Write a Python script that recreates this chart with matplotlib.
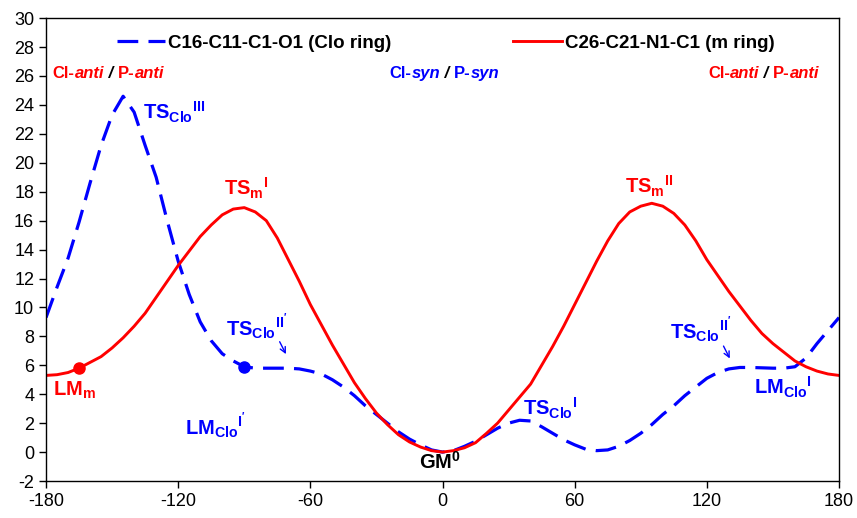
import matplotlib
matplotlib.use("Agg")
from matplotlib import pyplot as plt

plt.rcParams['font.family'] = ['Liberation Sans', 'DejaVu Sans']
plt.rcParams['mathtext.fontset'] = 'custom'
plt.rcParams['mathtext.rm'] = 'Liberation Sans'
plt.rcParams['mathtext.bf'] = 'Liberation Sans:bold'
plt.rcParams['mathtext.it'] = 'Liberation Sans:italic'
plt.rcParams['axes.unicode_minus'] = False

# dihedral scan, energies in kcal/mol
clo_angle = [-180, -175, -170, -165, -160, -155, -150, -145, -140, -135, -130,
             -125, -120, -115, -110, -105, -100, -95, -90, -85, -80, -70, -65,
             -60, -55, -50, -45, -40, -35, -30, -25, -20, -15, -10, -5, 0, 5,
             10, 15, 20, 25, 30, 35, 40, 45, 50, 55, 60, 65, 70, 75, 80, 85,
             90, 95, 100, 105, 110, 115, 120, 125, 130, 135, 140, 150, 155,
             160, 165, 170, 175, 180]
clo_energy = [9.3, 11.4, 13.4, 15.9, 18.6, 21.2, 23.3, 24.6, 23.5, 21.2, 19.0,
              16.0, 13.2, 10.9, 9.0, 7.7, 6.8, 6.3, 5.9, 5.8, 5.8, 5.8, 5.75,
              5.6, 5.4, 5.0, 4.5, 3.9, 3.2, 2.6, 2.0, 1.4, 0.9, 0.5, 0.15, 0.0, 0.1,
              0.4, 0.75, 1.2, 1.65, 2.0, 2.2, 2.15, 1.75, 1.3, 0.85, 0.5, 0.2, 0.1, 0.15, 0.4, 0.8,
              1.3, 1.9, 2.6, 3.2, 3.9, 4.5, 5.1, 5.5, 5.75, 5.85, 5.85, 5.8, 5.8,
              5.9, 6.5, 7.5, 8.4, 9.3]

m_angle = list(range(-180, 181, 5))
m_energy = [5.3, 5.35, 5.5, 5.8, 6.2, 6.6, 7.2, 7.9, 8.7, 9.6, 10.7,
            11.8, 12.9, 13.9, 14.9, 15.7, 16.4, 16.8, 16.9, 16.6, 16.0,
            14.8, 13.3, 11.8, 10.2, 8.8, 7.4, 6.1, 4.8, 3.7, 2.7,
            1.9, 1.2, 0.7, 0.35, 0.1, 0.0, 0.1, 0.3, 0.65, 1.3,
            2.0, 2.9, 3.8, 4.7, 6.0, 7.3, 8.7, 10.2, 11.7, 13.2,
            14.6, 15.8, 16.6, 17.0, 17.2, 17.0, 16.5, 15.7, 14.6, 13.3,
            12.2, 11.1, 10.1, 9.1, 8.2, 7.5, 6.9, 6.3, 5.9, 5.6,
            5.4, 5.3]

# marked local minima
lm_m = (-165, 5.8)
lm_clo = (-90, 5.9)

fig = plt.figure(figsize=(8.57, 5.18), dpi=100)
ax = fig.add_axes([0.0537, 0.0714, 0.9253, 0.8936])

ax.plot(clo_angle, clo_energy, color='#0000FF', lw=2.3, dashes=(6.5, 3.2),
        label='C16-C11-C1-O1 (Clo ring)')
ax.plot(m_angle, m_energy, color='#FF0000', lw=2.1, label='C26-C21-N1-C1 (m ring)')
ax.plot(*lm_m, 'o', color='#FF0000', ms=8)
ax.plot(*lm_clo, 'o', color='#0000FF', ms=8)

ax.set_xlim(-180, 180)
ax.set_ylim(-2, 30)
ax.set_xticks(range(-180, 181, 60))
ax.set_yticks(range(-2, 31, 2))
ax.tick_params(direction='out', length=5, width=1, labelsize=13, top=False, right=False)
for s in ax.spines.values():
    s.set_linewidth(1)

ax.legend(loc='center', bbox_to_anchor=(0.504, 0.946), ncol=2, frameon=False,
          prop={'weight': 'bold', 'size': 13.5}, handlelength=2.6, columnspacing=6.5,
          handletextpad=0.15)

blue = '#0000FF'
red = '#FF0000'

# state labels
labels = [
    (r'$\mathbf{TS_{Clo}{}^{III}}$', -136, 23.5, blue),
    (r'$\mathbf{TS_{m}{}^{I}}$', -99, 18.2, red),
    (r'$\mathbf{TS_{m}{}^{II}}$', 83, 18.4, red),
    (r'$\mathbf{LM_{m}}$', -177, 4.3, red),
    (r"$\mathbf{TS_{Clo}{}^{II'}}$", -98.5, 8.6, blue),
    (r"$\mathbf{LM_{Clo}{}^{I'}}$", -117, 1.8, blue),
    (r'$\mathbf{GM^{0}}$', -10.5, -0.7, 'black'),
    (r'$\mathbf{TS_{Clo}{}^{I}}$', 36.5, 3.0, blue),
    (r"$\mathbf{TS_{Clo}{}^{II'}}$", 103.5, 8.4, blue),
    (r'$\mathbf{LM_{Clo}{}^{I}}$', 141.5, 4.5, blue),
]
for txt, x, y, c in labels:
    ax.text(x, y, txt, color=c, fontsize=14.5, ha='left', va='center')

ax.annotate('', xy=(-70.5, 6.6), xytext=(-74.5, 7.8),
            arrowprops=dict(arrowstyle='->', color=blue, lw=1))
ax.annotate('', xy=(131, 6.3), xytext=(127, 7.5),
            arrowprops=dict(arrowstyle='->', color=blue, lw=1))


def multi_text(x, y, parts):
    t = ax.text(x, y, parts[0][0], color=parts[0][1], fontsize=12, fontweight='bold',
                style=parts[0][2], va='center', ha='left')
    for s, c, st in parts[1:]:
        t = ax.annotate(s, xy=(1, 0), xycoords=t, va='bottom', ha='left', color=c,
                        fontsize=12, fontweight='bold', style=st)


multi_text(-177, 26.2, [('Cl-', red, 'normal'), ('anti', red, 'italic'), (' / ', 'black', 'italic'),
                        ('P-', red, 'normal'), ('anti', red, 'italic')])
multi_text(-24, 26.2, [('Cl-', blue, 'normal'), ('syn', blue, 'italic'), (' / ', 'black', 'italic'),
                       ('P-', blue, 'normal'), ('syn', blue, 'italic')])
multi_text(120.5, 26.2, [('Cl-', red, 'normal'), ('anti', red, 'italic'), (' / ', 'black', 'italic'),
                         ('P-', red, 'normal'), ('anti', red, 'italic')])

fig.savefig('out.png', dpi=100)
